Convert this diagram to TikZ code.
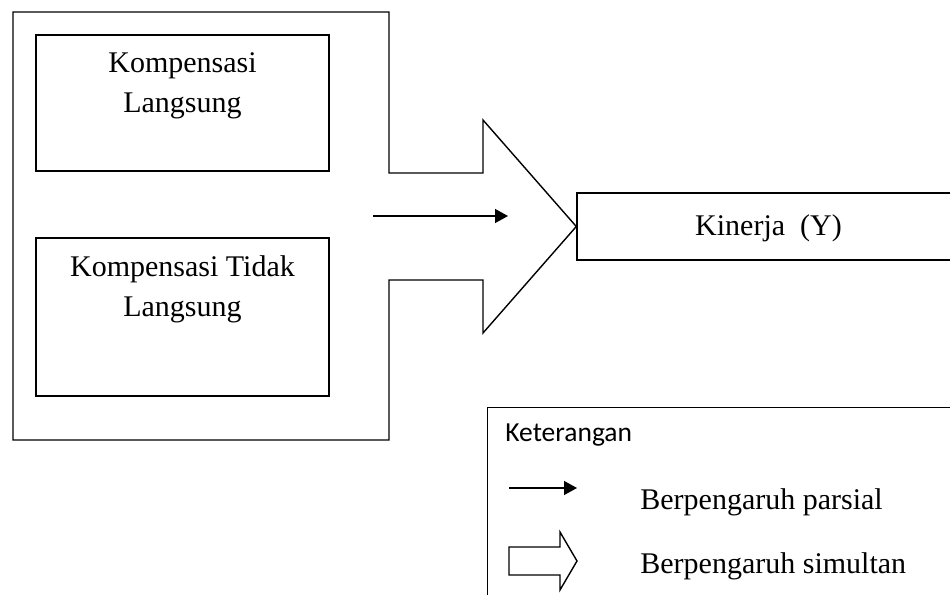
\documentclass[tikz,border=0pt]{standalone}
\usepackage{fontspec}
\setmainfont{Liberation Serif}
\newfontfamily\ketfont{Carlito}
\usetikzlibrary{arrows.meta}
\usetikzlibrary{positioning}
\tikzset{
	varbox/.style={draw, line width=0.7pt, minimum width=146.5pt, inner sep=0pt},
	vartext/.style={inner sep=0pt, align=center, font=\fontsize{15}{20}\selectfont},
	parsial/.style={-{Triangle[length=6.5pt,width=7pt]}, line width=0.7pt},
	simultan/.style={draw, line width=0.7pt, line join=miter}
}
\def\ketx{640}

\begin{document}
\begin{tikzpicture}[x=0.5pt, y=-0.5pt]
	\useasboundingbox (0,0) rectangle (950,595);
	\clip (0,0) rectangle (950,595);
	% variabel bebas
	\node[varbox, minimum height=68pt] (x1) at (182.5,103) {};
	\node[varbox, minimum height=79pt] (x2) at (182.5,317) {};
	\node[vartext, below=9pt of x1.north] (x1t) {Kompensasi\\Langsung};
	\node[vartext, below=9pt of x2.north] (x2t) {Kompensasi Tidak\\Langsung};
	% variabel terikat
	\node[varbox, minimum width=191.5pt, minimum height=33.5pt] (y) at (768.5,226.5) {};
	\node[vartext] (yt) at (768.5,228.5) {Kinerja\ \ (Y)};
	% panah simultan
	\draw[simultan] (13,12) -- (389,12) -- (389,173) -- (483,173) -- (483,120)
		-- (y.west) -- (483,333) -- (483,280) -- (389,280) -- (389,440)
		-- (13,440) -- cycle;
	% panah parsial
	\coordinate (p1) at (373,216);
	\coordinate (p2) at (508,216);
	\draw[parsial] (p1) -- (p2);
	% keterangan
	\node[draw, line width=0.7pt, minimum width=260pt, minimum height=130pt, anchor=north west] (ket) at (487,407) {};
	\node[anchor=west, inner sep=0pt, font=\ketfont\fontsize{13.75}{16}\selectfont] (kett) at (505,435) {Keterangan};
	\coordinate (k1) at (509,488);
	\coordinate (k2) at (577,488);
	\draw[parsial] (k1) -- (k2);
	\node[anchor=west, inner sep=0pt, font=\fontsize{15}{20}\selectfont] (ket1) at (\ketx,502) {Berpengaruh parsial};
	\draw[simultan] (509,547) -- (560,547) -- (560,532) -- (577,561) -- (560,590)
		-- (560,575) -- (509,575) -- cycle;
	\node[anchor=west, inner sep=0pt, font=\fontsize{15}{20}\selectfont] (ket2) at (\ketx,566) {Berpengaruh simultan};
\end{tikzpicture}
\end{document}
